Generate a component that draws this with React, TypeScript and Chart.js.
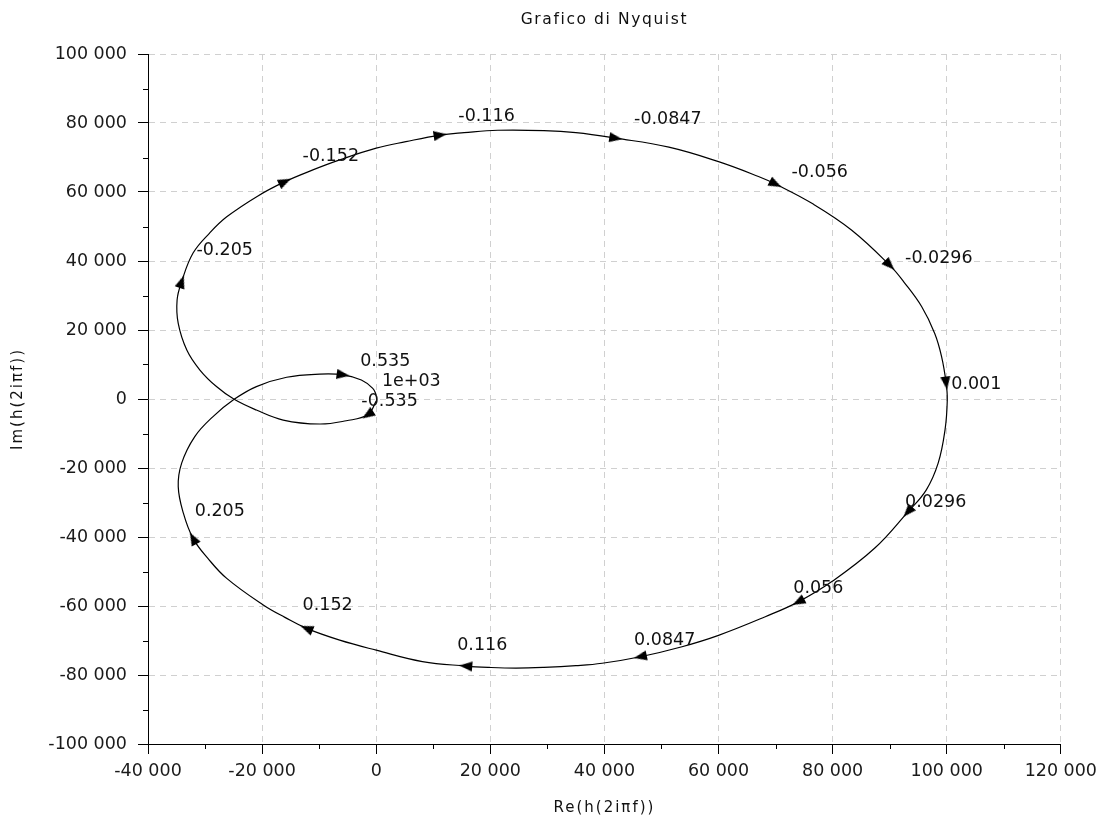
import { useEffect, useRef } from 'react';
import { Chart, registerables } from 'chart.js';

Chart.register(...registerables);

// Axis ranges and ticks
const xLimits = [-40000, 120000];
const yLimits = [-100000, 100000];
const majorStep = 20000;
const minorStep = 10000;

// Nyquist curve (Re, Im), ordered by increasing frequency
const curveRe = [
  0, -1500, -5250, -9900, -16300, -21000, -24900, -28000, -30900, -33200,
  -34700, -34900, -34100, -32100, -29200, -26200, -20800, -16000, -11100, -6400,
  0, 5200, 11200, 15400, 21300, 29400, 35000, 42000, 51300, 60000,
  67000, 70000, 76600, 83300, 90000, 92500, 95600, 97900, 99100, 99900,
  100100, 99700, 98500, 96400, 93200, 87400, 79800, 74000, 68200, 60000,
  53600, 46300, 39600, 35000, 29400, 24500, 19800, 15700, 8100, 0,
  -6400, -12200, -16000, -19800, -26200, -29500, -32100, -33800, -34700, -34100,
  -31800, -28600, -24900, -21000, -15700, -9900, -5800, -2600, -600, 0,
];
const curveIm = [
  -600, -4600, -6300, -7250, -6100, -3200, -100, 3600, 8400, 14200,
  21900, 28700, 34000, 42300, 48100, 52800, 58800, 63000, 66400, 69300,
  72700, 74600, 76500, 77200, 77900, 77800, 77200, 75600, 73000, 68800,
  64500, 62300, 56500, 49000, 38800, 33900, 26800, 19000, 12300, 4600,
  -300, -9000, -18600, -26400, -32700, -43200, -53000, -58800, -63100, -68500,
  -71800, -74700, -76600, -77300, -77800, -78000, -77800, -77400, -76100, -72800,
  -69900, -66500, -63300, -59700, -52000, -46200, -40400, -33100, -25400, -18600,
  -10900, -5100, -100, 3600, 6300, 7200, 7000, 5500, 3100, 1200,
];

// Direction arrows (points on the curve)
const arrowRe = [-1500, -34100, -16000, 11200, 42000, 70000, 90000, 99900, 93200, 74000, 46300, 15700, -12200, -32100, -5800];
const arrowIm = [-4600, 34000, 63000, 76500, 75600, 62300, 38800, 4600, -32700, -58800, -74700, -77400, -66500, -40400, 7000];

// Frequency labels
const labelTexts = ['-0.535', '1e+03', '0.535', '-0.205', '-0.152', '-0.116', '-0.0847', '-0.056', '-0.0296', '0.001', '0.0296', '0.056', '0.0847', '0.116', '0.152', '0.205'];
const labelRe = [-2600, 1000, -2800, -31500, -12900, 14400, 45200, 72800, 92700, 100800, 92700, 73100, 45200, 14200, -12900, -31800];
const labelIm = [-600, 5200, 11000, 43200, 70200, 81800, 80900, 65800, 40600, 4100, -30100, -54800, -70100, -71300, -59700, -32500];

const titleText = 'Grafico di Nyquist';
const xTitle = 'Re(h(2iπf))';
const yTitle = 'Im(h(2iπf))';

const FONT = 'DejaVu Sans';

function fmt(v: number): string {
  const s = Math.abs(Math.round(v)).toString().replace(/\B(?=(\d{3})+(?!\d))/g, ' ');
  return (v < 0 ? '-' : '') + s;
}

function nearestIdx(x: number, y: number): number {
  let best = 0;
  let bd = Infinity;
  for (let i = 0; i < curveRe.length; i++) {
    const d = (curveRe[i] - x) ** 2 + (curveIm[i] - y) ** 2;
    if (d < bd) { bd = d; best = i; }
  }
  return best;
}

export default function App() {
  const ref = useRef<HTMLCanvasElement>(null);

  useEffect(() => {
    document.body.style.margin = '0';
    const canvas = ref.current!;

    const arrowImg = document.createElement('canvas');
    arrowImg.width = 10;
    arrowImg.height = 13;
    const a = arrowImg.getContext('2d')!;
    a.fillStyle = '#000';
    a.beginPath();
    a.moveTo(5, 0);
    a.lineTo(10, 13);
    a.lineTo(0, 13);
    a.closePath();
    a.fill();

    const arrowCurveIdx = arrowRe.map((x, i) => nearestIdx(x, arrowIm[i]));

    const textPlugin = {
      id: 'nyqText',
      afterDatasetsDraw(chart: any) {
        const ctx = chart.ctx;
        const xs = chart.scales.x;
        const ys = chart.scales.y;
        ctx.save();
        ctx.fillStyle = '#111';
        ctx.font = `17.5px "${FONT}"`;
        ctx.textAlign = 'left';
        ctx.textBaseline = 'middle';
        labelTexts.forEach((t, i) => {
          ctx.fillText(t, xs.getPixelForValue(labelRe[i]), ys.getPixelForValue(labelIm[i]));
        });
        ctx.restore();
      },
      afterDraw(chart: any) {
        const ctx = chart.ctx;
        const xs = chart.scales.x;
        const ys = chart.scales.y;
        const area = chart.chartArea;
        ctx.save();
        // minor ticks
        ctx.strokeStyle = '#000';
        ctx.lineWidth = 1;
        ctx.beginPath();
        for (let v = xLimits[0] + minorStep; v < xLimits[1]; v += majorStep) {
          const px = Math.round(xs.getPixelForValue(v)) + 0.5;
          ctx.moveTo(px, area.bottom);
          ctx.lineTo(px, area.bottom + 5);
        }
        for (let v = yLimits[0] + minorStep; v < yLimits[1]; v += majorStep) {
          const py = Math.round(ys.getPixelForValue(v)) + 0.5;
          ctx.moveTo(area.left - 5, py);
          ctx.lineTo(area.left, py);
        }
        ctx.stroke();

        ctx.fillStyle = '#111';
        ctx.textAlign = 'center';
        ctx.textBaseline = 'middle';
        const c: any = ctx;
        const cx = (area.left + area.right) / 2;
        // title
        ctx.font = `15.5px "${FONT}"`;
        c.letterSpacing = '1.6px';
        ctx.fillText(titleText, cx, 20);
        // axis titles
        ctx.font = `15px "${FONT}"`;
        c.letterSpacing = '2px';
        ctx.fillText(xTitle, cx, 808);
        ctx.translate(18, (area.top + area.bottom) / 2);
        ctx.rotate(-Math.PI / 2);
        ctx.fillText(yTitle, 0, 0);
        ctx.restore();
      },
    };

    const chart = new Chart(canvas, {
      type: 'scatter',
      data: {
        datasets: [
          {
            data: curveRe.map((x, i) => ({ x, y: curveIm[i] })),
            showLine: true,
            borderColor: '#000',
            borderWidth: 1.2,
            pointRadius: 0,
            tension: 0.4,
            order: 2,
          },
          {
            data: arrowRe.map((x, i) => ({ x, y: arrowIm[i] })),
            showLine: false,
            pointStyle: arrowImg,
            pointRadius: 6,
            backgroundColor: '#000',
            borderColor: '#000',
            rotation: (ctx: any) => {
              const chart = ctx.chart;
              const k = arrowCurveIdx[ctx.dataIndex];
              if (k === undefined) return 0;
              const i0 = Math.max(0, k - 1);
              const i1 = Math.min(curveRe.length - 1, k + 1);
              const xs = chart.scales.x;
              const ys = chart.scales.y;
              const dx = xs.getPixelForValue(curveRe[i1]) - xs.getPixelForValue(curveRe[i0]);
              const dy = ys.getPixelForValue(curveIm[i1]) - ys.getPixelForValue(curveIm[i0]);
              return (Math.atan2(dx, -dy) * 180) / Math.PI;
            },
            order: 1,
          } as any,
        ],
      },
      options: {
        responsive: false,
        animation: false,
        events: [],
        layout: { padding: { top: 54, right: 41, left: 0, bottom: 0 } },
        plugins: {
          legend: { display: false },
          tooltip: { enabled: false },
          title: { display: false },
        },
        scales: {
          x: {
            type: 'linear',
            min: xLimits[0],
            max: xLimits[1],
            ticks: {
              stepSize: majorStep,
              callback: (v: any) => fmt(Number(v)),
              font: { family: FONT, size: 17.5 },
              color: '#1a1a1a',
              padding: 7,
              maxRotation: 0,
              autoSkip: false,
            },
            grid: { color: '#d0d0d0', lineWidth: 1, tickLength: 10, tickColor: '#000', tickWidth: 1, tickBorderDash: [] } as any,
            border: { color: '#000', width: 1, dash: [6, 5] },
            afterFit: (s: any) => { s.height = 84; },
          },
          y: {
            type: 'linear',
            min: yLimits[0],
            max: yLimits[1],
            ticks: {
              stepSize: majorStep,
              callback: (v: any) => fmt(Number(v)),
              font: { family: FONT, size: 17.5 },
              color: '#1a1a1a',
              padding: 11,
              autoSkip: false,
            },
            grid: { color: '#d0d0d0', lineWidth: 1, tickLength: 10, tickColor: '#000', tickWidth: 1, tickBorderDash: [] } as any,
            border: { color: '#000', width: 1, dash: [6, 5] },
            afterFit: (s: any) => { s.width = 148; },
          },
        },
      },
      plugins: [textPlugin],
    });

    return () => chart.destroy();
  }, []);

  return <canvas ref={ref} width={1104} height={828} style={{ display: 'block' }} />;
}
